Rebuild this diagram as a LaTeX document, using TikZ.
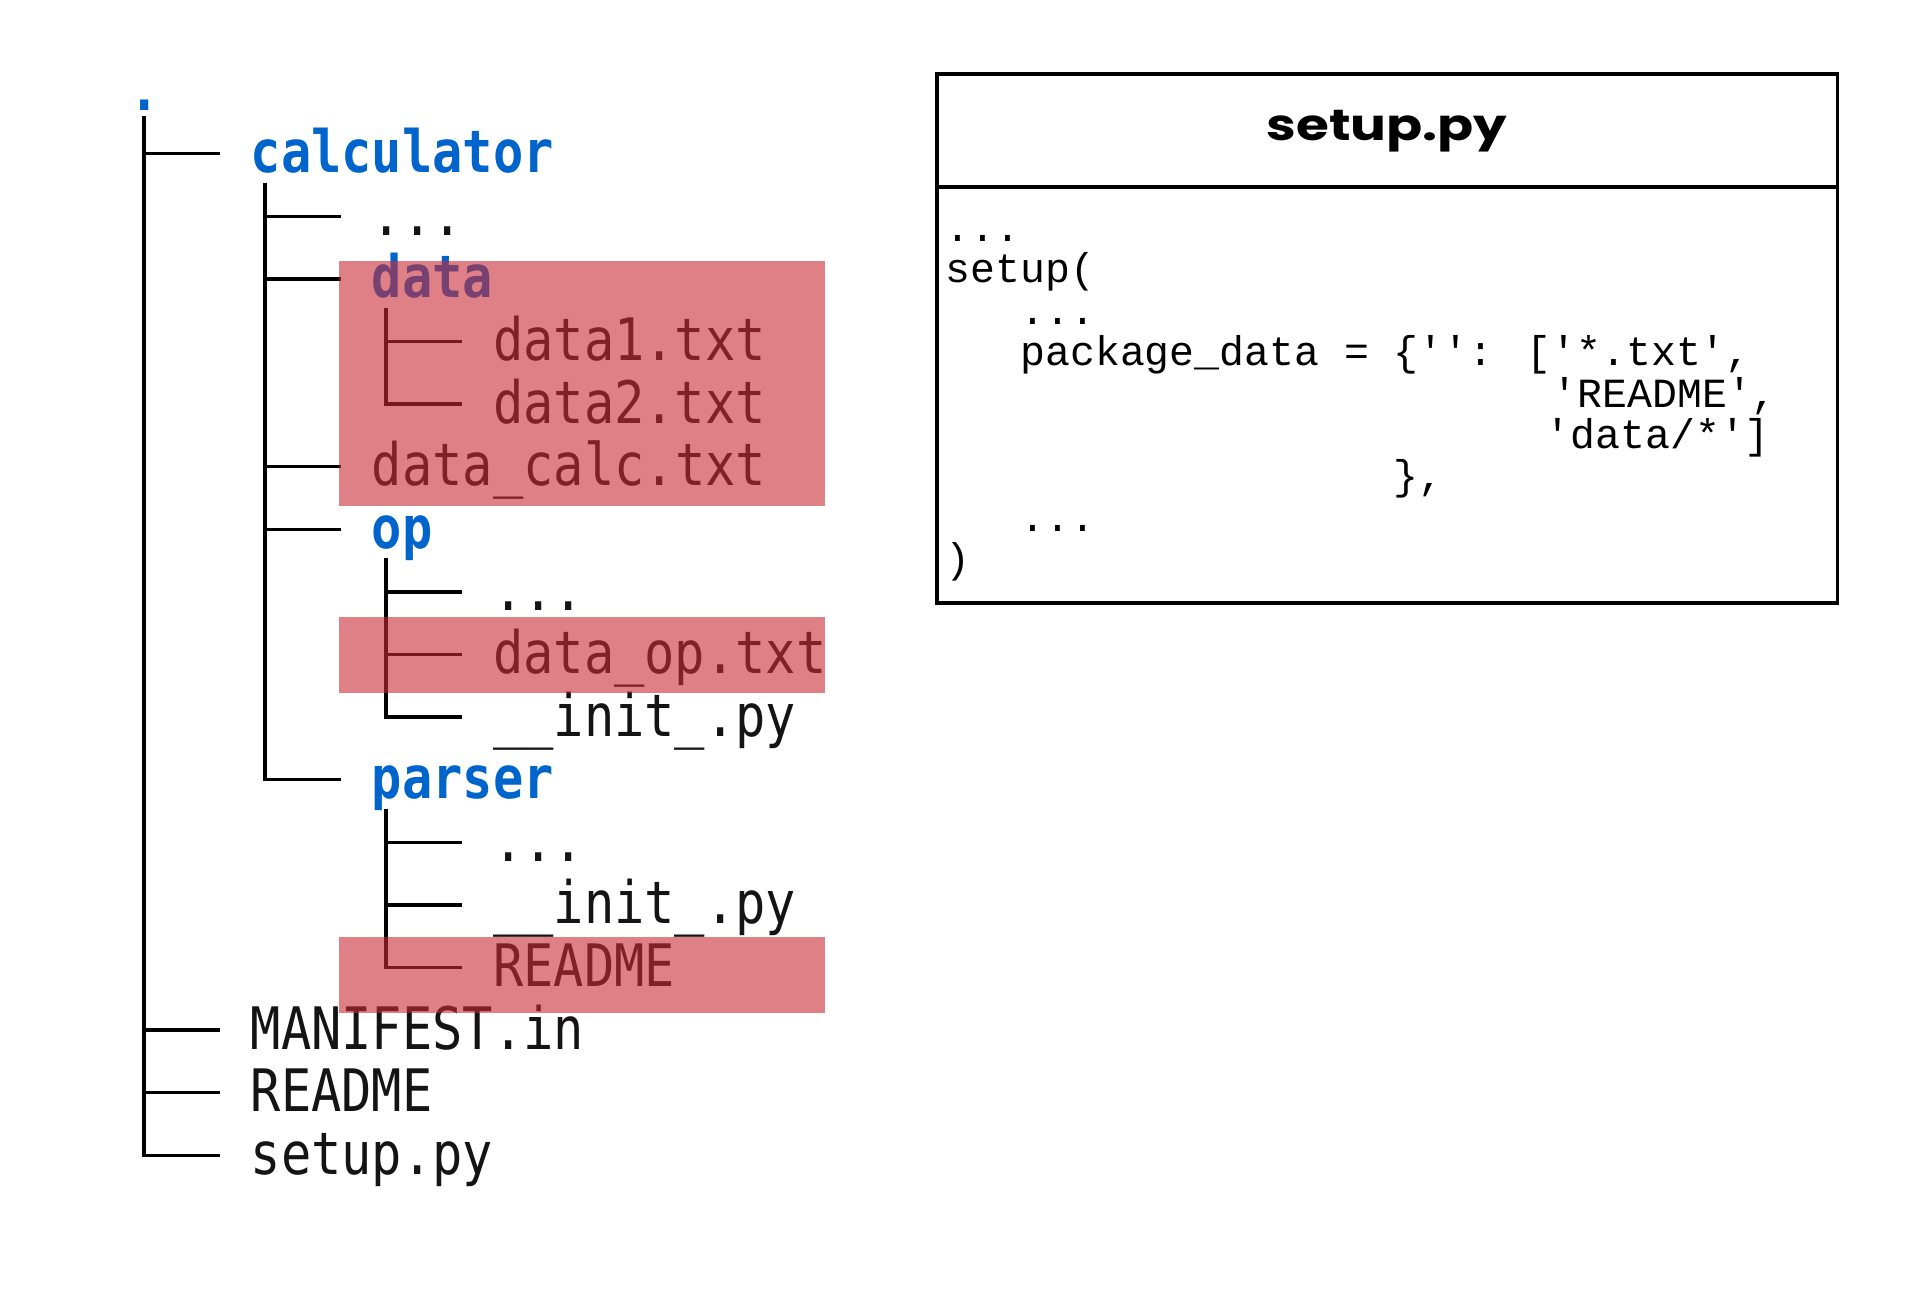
\documentclass[tikz,border=0pt]{standalone}
\usepackage{fontspec}
\newfontfamily\treefont{DejaVu Sans Mono}[FakeStretch=0.86]
\newfontfamily\codefont{Liberation Mono}
\newfontfamily\titlefont{Poppins}[FakeStretch=1.22]
\newcommand{\q}{\textquotesingle}
\definecolor{dirblue}{RGB}{0,100,205}
\definecolor{filegray}{RGB}{20,20,20}
\definecolor{hlred}{RGB}{200,43,52}
\tikzset{
  file/.style = {anchor=west, inner sep=0pt, text height=10.8pt, text depth=0pt,
                 font=\treefont\fontsize{16.65}{20}\selectfont, text=filegray},
  folder/.style = {file, font=\treefont\fontsize{16.65}{20}\selectfont\bfseries, text=dirblue},
  branch/.style = {line width=1pt, shorten >=8.62pt},
  code/.style = {anchor=base west, inner sep=0pt, font=\codefont\fontsize{11.8}{14}\selectfont},
  highlight/.style = {fill=hlred, fill opacity=0.6}
}
\begin{document}
\begin{tikzpicture}[x=0.01cm, y=-0.01cm]
\useasboundingbox (0,0) rectangle (1913,1313);

% directory tree
\node [folder] at (128.8,91.1) (root) {.};
\node [folder] at (250.0,153.7) (calculator) {calculator};
\node [file] at (371.2,216.3) (calcdots) {...};
\node [folder] at (371.2,278.9) (data) {data};
\node [file] at (492.4,341.5) (data1) {data1.txt};
\node [file] at (492.4,404.1) (data2) {data2.txt};
\node [file] at (371.2,466.7) (datacalc) {data\_calc.txt};
\node [folder] at (371.2,529.3) (op) {op};
\node [file] at (492.4,591.9) (opdots) {...};
\node [file] at (492.4,654.5) (dataop) {data\_op.txt};
\node [file] at (492.4,717.1) (opinit) {\_\_init\_.py};
\node [folder] at (371.2,779.7) (parser) {parser};
\node [file] at (492.4,842.3) (parserdots) {...};
\node [file] at (492.4,904.9) (parserinit) {\_\_init\_.py};
\node [file] at (492.4,967.5) (parserreadme) {README};
\node [file] at (250.0,1030.1) (manifest) {MANIFEST.in};
\node [file] at (250.0,1092.7) (readme) {README};
\node [file] at (250.0,1155.3) (setuppy) {setup.py};

\draw [branch] ([shift={(15,25)}]root.west) |- (calculator.west);
\draw [branch] ([shift={(15,25)}]root.west) |- (manifest.west);
\draw [branch] ([shift={(15,25)}]root.west) |- (readme.west);
\draw [branch] ([shift={(15,25)}]root.west) |- (setuppy.west);
\draw [branch] ([shift={(15,29)}]calculator.west) |- (calcdots.west);
\draw [branch] ([shift={(15,29)}]calculator.west) |- (data.west);
\draw [branch] ([shift={(15,29)}]calculator.west) |- (datacalc.west);
\draw [branch] ([shift={(15,29)}]calculator.west) |- (op.west);
\draw [branch] ([shift={(15,29)}]calculator.west) |- (parser.west);
\draw [branch] ([shift={(15,29)}]data.west) |- (data1.west);
\draw [branch] ([shift={(15,29)}]data.west) |- (data2.west);
\draw [branch] ([shift={(15,29)}]op.west) |- (opdots.west);
\draw [branch] ([shift={(15,29)}]op.west) |- (dataop.west);
\draw [branch] ([shift={(15,29)}]op.west) |- (opinit.west);
\draw [branch] ([shift={(15,29)}]parser.west) |- (parserdots.west);
\draw [branch] ([shift={(15,29)}]parser.west) |- (parserinit.west);
\draw [branch] ([shift={(15,29)}]parser.west) |- (parserreadme.west);

% highlighted entries
\fill [highlight] (339,261) rectangle (825,506);
\fill [highlight] (339,617) rectangle (825,693);
\fill [highlight] (339,937) rectangle (825,1013);

% setup.py box
\node [draw, line width=1pt, inner sep=0pt, minimum width=9cm, minimum height=5.29cm] at (1387,338.5) (setupbox) {};
\coordinate (divleft) at (937,187);
\coordinate (divright) at (1837,187);
\draw [line width=1pt] (divleft) -- (divright);
\node [anchor=base, inner sep=0pt, font=\titlefont\fontsize{12.4}{14}\selectfont\bfseries] at (1387,141) (title) {setup.py};

\node [code] at (945,241.5) (code1) {...};
\node [code] at (945,282.9) (code2) {setup(};
\node [code] at (1019.7,324.3) (code3) {...};
\node [code] at (1019.7,365.7) (code4) {package\_data = \{\q\q: [\q*.txt\q,};
\node [code] at (1552,407.1) (code5) {\q README\q,};
\node [code] at (1545,448.5) (code6) {\q data/*\q]};
\node [code] at (1393.2,489.9) (code7) {\},};
\node [code] at (1019.7,531.3) (code8) {...};
\node [code] at (945,572.7) (code9) {)};
\end{tikzpicture}
\end{document}
